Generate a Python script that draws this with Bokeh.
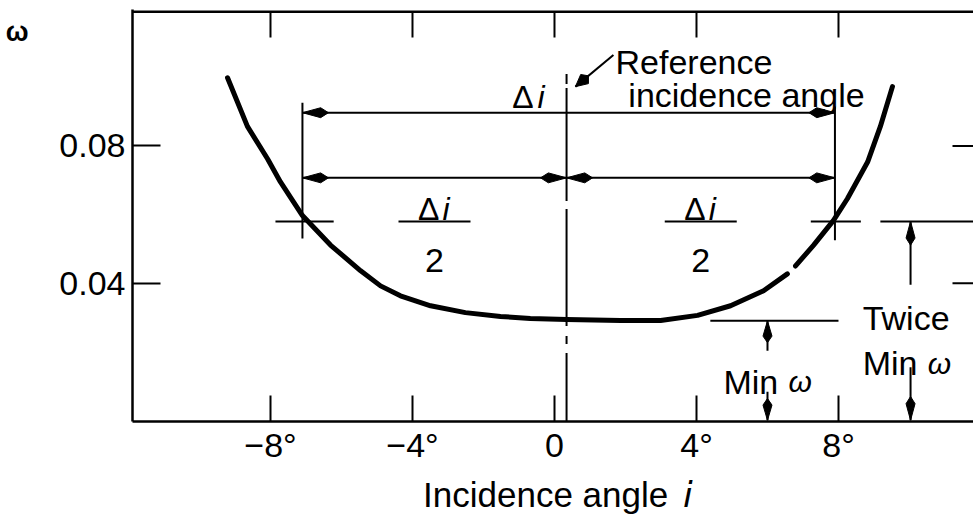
import math

from bokeh.plotting import figure
from bokeh.models import LinearAxis, FixedTicker, Label, Range1d
from bokeh.embed import file_html
from bokeh.resources import INLINE

NAN = float("nan")

# Loss coefficient curve (incidence angle in degrees, loss coefficient omega);
# the NaN marks the short break in the printed trace.
incidence_deg = [-9.21, -8.65, -8.08, -7.72, -7.10, -6.31, -5.46, -4.90, -4.34,
                 -3.49, -2.51, -1.52, -0.68, 0.34, 1.86, 2.99, 4.03, 4.96, 5.89,
                 6.56, NAN, 6.79, 7.30, 7.86, 8.25, 8.82, 9.18, 9.52]
loss_omega = [0.0999, 0.0857, 0.0762, 0.0695, 0.0597, 0.0511, 0.0436, 0.0392, 0.0363,
              0.0334, 0.0314, 0.0303, 0.0297, 0.0294, 0.0291, 0.0291, 0.0306, 0.0334, 0.0378,
              0.0427, NAN, 0.0450, 0.0511, 0.0583, 0.0646, 0.0753, 0.0857, 0.0973]

# Axis ticks
angle_ticks = [-8, -4, 0, 4, 8]
angle_tick_labels = ["\u22128\u00b0", "\u22124\u00b0", "0", "4\u00b0", "8\u00b0"]
omega_ticks = [0.04, 0.08]
omega_tick_labels = ["0.04", "0.08"]

# Characteristic values of the loss bucket
reference_angle = 0.34      # reference incidence angle (deg)
min_omega = 0.029           # minimum loss coefficient
twice_min_omega = 2 * min_omega
range_low = -7.10           # incidence where omega = 2 x min (low side)
range_high = 7.90           # incidence where omega = 2 x min (high side)

FONT = "Liberation Sans"
FS = "34px"

# Plot geometry
W, H = 973, 516
B_LEFT, B_RIGHT, B_TOP, B_BOTTOM = 132, 0, 9, 91
FW = W - B_LEFT - B_RIGHT
FH = H - B_TOP - B_BOTTOM
X0 = -11.887
X1 = X0 + FW / 35.5
Y0 = -0.00035
Y1 = Y0 + FH / 3462.5
SX = FW / (X1 - X0)
SY = FH / (Y1 - Y0)

p = figure(width=W, height=H, x_range=Range1d(X0, X1), y_range=Range1d(Y0, Y1),
           output_backend="svg", toolbar_location=None,
           min_border_left=B_LEFT, min_border_right=B_RIGHT,
           min_border_top=B_TOP, min_border_bottom=B_BOTTOM)
p.grid.visible = False
p.outline_line_color = None
p.background_fill_color = "white"
p.border_fill_color = "white"

LW_AX = 2.5


def style_axis(ax, tick_in):
    ax.major_tick_in = tick_in
    ax.major_tick_out = 0
    ax.minor_tick_line_color = None
    ax.axis_line_width = LW_AX
    ax.major_tick_line_width = 2
    ax.major_label_text_font = FONT
    ax.major_label_text_font_size = FS
    ax.major_label_text_color = "black"


xa = p.xaxis[0]
xa.ticker = FixedTicker(ticks=angle_ticks)
xa.major_label_overrides = dict(zip(angle_ticks, angle_tick_labels))
style_axis(xa, 26)
xa.major_label_standoff = 4

ya = p.yaxis[0]
ya.ticker = FixedTicker(ticks=omega_ticks)
ya.major_label_overrides = dict(zip(omega_ticks, omega_tick_labels))
style_axis(ya, 28)
ya.major_label_standoff = 7


def label_axis(ticks, labels, standoff, size=FS, style="normal"):
    """A bare axis (no line, no ticks) that only carries a caption."""
    return LinearAxis(ticker=FixedTicker(ticks=ticks),
                      major_label_overrides=dict(zip(ticks, labels)),
                      axis_line_color=None, major_tick_line_color=None,
                      minor_tick_line_color=None, major_tick_in=0, major_tick_out=0,
                      major_label_standoff=standoff, major_label_text_font=FONT,
                      major_label_text_font_size=size, major_label_text_font_style=style,
                      major_label_text_color="black")


# omega symbol at the top of the ordinate
p.add_layout(label_axis([0.1132], ["\u03c9"], 28, size="27px", style="bold"), "left")
# abscissa title
p.add_layout(label_axis([-0.25, 3.75], ["Incidence angle", "\U0001D62A"], 8, size="35px"), "below")

# top edge of the frame with its inward ticks, and inward ticks on the right edge
top_y = Y1 - 2.2 / SY
p.segment(x0=[X0], y0=[top_y], x1=[X1], y1=[top_y], line_color="black", line_width=LW_AX)
p.segment(x0=angle_ticks, y0=[top_y] * len(angle_ticks), x1=angle_ticks,
          y1=[top_y - 26 / SY] * len(angle_ticks), line_color="black", line_width=2)
p.segment(x0=[X1 - 21 / SX] * len(omega_ticks), y0=omega_ticks,
          x1=[X1] * len(omega_ticks), y1=omega_ticks, line_color="black", line_width=2)

# loss curve
p.line(incidence_deg, loss_omega, line_color="black", line_width=5,
       line_cap="round", line_join="round")

# reference incidence line (chain line)
p.line([reference_angle, reference_angle], [Y0 - 0.001, 0.101], line_color="black",
       line_width=2, line_dash="72 9 8 10 117 8 113 4 15 30")

THIN = 2
row_top = 0.0897
row_mid = 0.0707

segs = [
    # span arrows
    (range_low, row_top, range_high, row_top),
    (range_low, row_mid, range_high, row_mid),
    # extension lines at the 2 x min points
    (range_low, 0.0926, range_low, 0.053),
    (range_high, 0.0915, range_high, 0.0525),
    # short cross marks on the curve
    (range_low - 0.76, twice_min_omega, range_low + 0.88, twice_min_omega),
    (range_high - 0.68, twice_min_omega, range_high + 0.73, twice_min_omega),
    # min omega level and arrows
    (4.39, min_omega, 8.0, min_omega),
    (6.0, min_omega, 6.0, 0.0203),
    (6.0, 0.0083, 6.0, 0.0),
    # twice min level and arrows
    (9.18, twice_min_omega, X1, twice_min_omega),
    (10.03, twice_min_omega, 10.03, 0.0395),
    (10.03, 0.0155, 10.03, 0.0),
    # leader to the reference line
    (1.66, 0.1065, 0.59, 0.0973),
]
p.segment(x0=[s[0] for s in segs], y0=[s[1] for s in segs],
          x1=[s[2] for s in segs], y1=[s[3] for s in segs],
          line_color="black", line_width=THIN)


def head(tx, ty, bx, by, length=26, width=10):
    """Arrowhead with its tip at (tx, ty); (bx, by) points back along the shaft (screen px, y up)."""
    n = math.hypot(bx, by)
    ux, uy = bx / n, by / n
    nx, ny = -uy, ux
    pts = [(0, 0),
           (0.7 * length * ux + width / 2 * nx, 0.7 * length * uy + width / 2 * ny),
           (length * ux, length * uy),
           (0.7 * length * ux - width / 2 * nx, 0.7 * length * uy - width / 2 * ny)]
    return [tx + a / SX for a, _ in pts], [ty + b / SY for _, b in pts]


heads = [
    head(range_low, row_top, 1, 0), head(range_high, row_top, -1, 0),
    head(range_low, row_mid, 1, 0), head(reference_angle, row_mid, -1, 0),
    head(reference_angle, row_mid, 1, 0), head(range_high, row_mid, -1, 0),
    head(6.0, min_omega, 0, -1, 22, 9), head(6.0, 0.0, 0, 1, 22, 9),
    head(10.03, twice_min_omega, 0, -1, 24, 9), head(10.03, 0.0, 0, 1, 24, 9),
    head(0.59, 0.0973, (1.66 - 0.59) * SX, (0.1065 - 0.0973) * SY, 17, 12),
]
p.patches(xs=[h[0] for h in heads], ys=[h[1] for h in heads],
          fill_color="black", line_color="black", line_width=1)

# fraction bars of the half-range labels
mid_low = (range_low + reference_angle) / 2
mid_high = (range_high + reference_angle) / 2
bar_half = 36 / SX
p.segment(x0=[mid_low - bar_half, mid_high - bar_half], y0=[0.058, 0.058],
          x1=[mid_low + bar_half, mid_high + bar_half], y1=[0.058, 0.058],
          line_color="black", line_width=THIN)


def label(x, y, text, align="left", style="normal", size=FS, dx=0, font=FONT):
    p.add_layout(Label(x=x, y=y, text=text, text_align=align, text_baseline="alphabetic",
                       text_font=font, text_font_size=size, text_font_style=style,
                       text_color="black", x_offset=dx))


# reference annotation
label(1.72, 0.1045, "Reference")
label(2.08, 0.0950, "incidence angle")
label(-0.59, 0.0944, "\u0394", align="right", size="32px")
label(-0.48, 0.0944, "i", style="italic", size="32px")

# half-range fractions
for mid in (mid_low, mid_high):
    label(mid, 0.0617, "\u0394", align="right", size="32px", dx=5)
    label(mid, 0.0617, "i", style="italic", size="32px", dx=8)
    label(mid, 0.0467, "2", align="center")

# min / twice-min annotations
label(4.76, 0.0112, "Min")
label(4.76, 0.0112, "\u03c9", style="italic", size="30px", dx=65)
label(8.68, 0.0299, "Twice")
label(8.68, 0.0166, "Min")
label(8.68, 0.0166, "\u03c9", style="italic", size="30px", dx=65)

open("out.html", "w").write(file_html(p, INLINE))
